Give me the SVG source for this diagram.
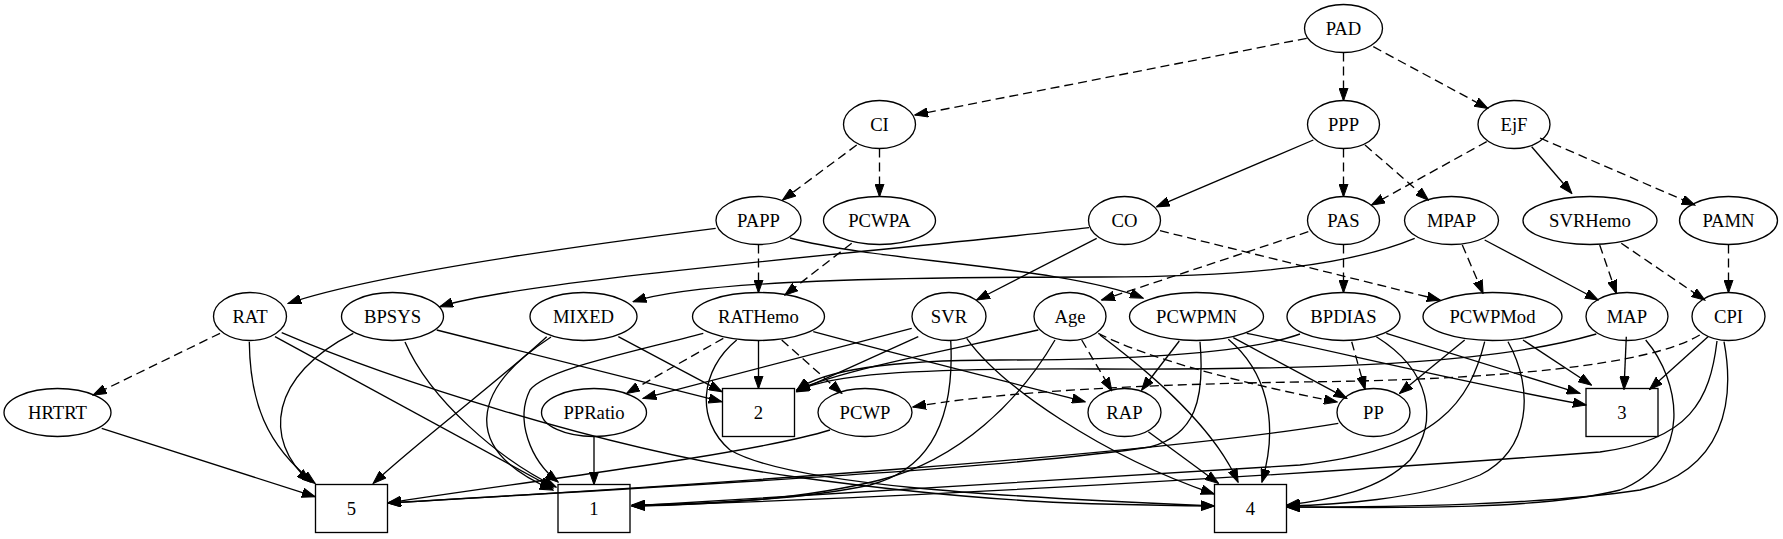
<svg xmlns="http://www.w3.org/2000/svg" width="1783" height="539" viewBox="0 0 1783 539">
<style>
.n ellipse,.n rect{fill:none;stroke:#000;stroke-width:1.33}
.n text{font-family:"Liberation Serif","Times New Roman",serif;font-size:18.67px;text-anchor:middle;fill:#000}
#edges path{fill:none;stroke:#000;stroke-width:1.33;marker-end:url(#ah)}
#edges path.d{stroke-dasharray:9,5}
</style>
<defs>
<marker id="ah" viewBox="0 -5 14 10" refX="13" refY="0" markerWidth="14" markerHeight="10" markerUnits="userSpaceOnUse" orient="auto">
<path d="M0,-4.7 L13.3,0 L0,4.7 z" fill="#000" stroke="#000" stroke-width="1" stroke-dasharray="none"/>
</marker>
</defs>
<rect width="1783" height="539" fill="#fff"/>
<g id="edges">
<path class="d" d="M1306.7,38.3 L915,115"/>
<path class="d" d="M1343.5,52.5 L1343.5,100.5"/>
<path class="d" d="M1373.3,46.7 L1487.7,108.3"/>
<path class="d" d="M856.7,145 L782.7,200"/>
<path class="d" d="M879.5,148.5 L879.5,196.5"/>
<path class="d" d="M1343.5,148.5 L1343.5,196.5"/>
<path class="d" d="M1365,145 L1428.3,200"/>
<path class="d" d="M1486.7,141.7 L1371.7,205"/>
<path d="M1531.7,146.7 L1571.7,193.3"/>
<path class="d" d="M1540,138 L1694.7,205"/>
<path d="M1313.3,140 L1156.7,206.7"/>
<path d="M715.7,228.3 C600,243 380,272 288.3,303.3"/>
<path d="M790,238 C880,262 1060,266 1143,298"/>
<path d="M1414.7,238.3 C1350,265 1250,277 1100,277 C900,277 700,280 633.3,301.7"/>
<path d="M1089,227.7 C900,250 520,280 440,306.7"/>
<path d="M1096.7,238.3 L976.7,300"/>
<path class="d" d="M1160,230.7 L1440,300"/>
<path class="d" d="M1308.3,231.7 L1101.7,300"/>
<path class="d" d="M1343.5,244.5 L1343.5,292.5"/>
<path class="d" d="M1462.3,245 L1483,293.3"/>
<path d="M1484.7,240 L1598,300"/>
<path class="d" d="M1599.7,245 L1616.3,293.3"/>
<path class="d" d="M1621.3,243.3 L1704.7,300"/>
<path class="d" d="M1728.5,244.5 L1728.5,292.5"/>
<path class="d" d="M758.5,244.5 L758.5,292.5"/>
<path class="d" d="M851.7,243.3 L785,295"/>
<path class="d" d="M220,333.3 L93.3,395"/>
<path d="M249.3,341.7 C250,400 265,445 315,483.3"/>
<path d="M353.3,333.3 C270,375 262,440 310,481.7"/>
<path d="M546.7,336.7 C500,380 420,440 373.3,483.3"/>
<path d="M551,337 C470,390 460,450 553,490"/>
<path d="M405,342 C430,400 500,460 556,487"/>
<path d="M436.7,330 L721.7,401.7"/>
<path d="M275,336.7 L553,488"/>
<path d="M281.7,332.7 C380,375 600,450 796,477 S1100,505 1214,506"/>
<path d="M758.5,340.5 L758.5,388.5"/>
<path class="d" d="M723.3,338.3 L626.7,393.3"/>
<path class="d" d="M781.7,340 L841.7,393.3"/>
<path d="M703.3,333.3 C620,355 545,370 530,390 C515,420 530,460 558,482"/>
<path d="M736.7,340 C700,370 695,420 730,450 C790,485 1000,497 1214,506"/>
<path d="M813.3,331.7 C900,355 1000,380 1085,401.7"/>
<path d="M618.3,336.7 L721.7,391.7"/>
<path d="M966.7,338.3 C1000,385 1100,455 1214,494"/>
<path d="M918.3,336.7 L796.7,391.7"/>
<path d="M911.7,328.3 L643.3,398.3"/>
<path d="M950.7,340 C955,420 930,470 870,485 C800,500 700,504 632,505"/>
<path d="M1038.3,330 C950,350 850,368 796.7,390"/>
<path d="M1055,340 C1020,400 960,460 880,480 C800,500 700,505 632,506"/>
<path class="d" d="M1081.7,340 L1111.7,390.7"/>
<path class="d" d="M1098.3,333.3 C1150,360 1250,385 1337,402"/>
<path d="M1100,335 C1160,380 1215,430 1238,482"/>
<path d="M1179.3,341 L1141.7,390"/>
<path d="M1233.3,337.7 L1346.7,398.3"/>
<path d="M1246.7,333.3 C1330,350 1450,380 1586,405"/>
<path d="M1228.3,339.3 C1265,370 1280,420 1262,482"/>
<path d="M1200,341.7 C1205,400 1195,435 1150,447 C1000,470 600,490 388,503"/>
<path d="M1300,334 C1250,352 1150,360 1000,360 C880,360 820,372 797,390"/>
<path d="M1596.3,334 C1500,362 1350,370 1100,369 C900,368 830,375 797,391"/>
<path class="d" d="M1351.7,341.7 L1365,389.3"/>
<path d="M1386.3,333.3 L1579.7,393.3"/>
<path d="M1376.3,336.7 C1430,370 1440,420 1410,460 C1380,490 1330,500 1287,505"/>
<path d="M1464.7,340 L1399.7,393.3"/>
<path d="M1523,340 L1591.3,385"/>
<path d="M1508,341.7 C1535,390 1530,450 1480,475 C1420,500 1330,505 1287,506"/>
<path d="M1484.7,341.7 C1470,400 1440,450 1300,465 C1000,485 750,500 632,506"/>
<path d="M1626.3,336.7 L1624,389.3"/>
<path d="M1645.7,340 C1680,380 1695,460 1620,490 C1540,510 1400,508 1287,507"/>
<path d="M1708,336.7 L1649.7,389.3"/>
<path class="d" d="M1699.7,335 C1650,365 1500,380 1300,382 C1100,385 980,395 913,407"/>
<path d="M1724,341.7 C1735,400 1725,470 1640,490 C1540,505 1400,507 1287,507"/>
<path d="M1717,341 C1710,400 1690,440 1600,452 C1300,475 900,498 632,506"/>
<path d="M830,430 C750,455 500,485 388,503"/>
<path d="M1338.3,423.3 C1150,455 700,485 388,503"/>
<path d="M594,436.5 L594,484.5"/>
<path d="M101.7,428.3 L315,496.7"/>
<path d="M1148.3,431.7 L1218.3,483.3"/>
</g>
<g id="PAD" class="n"><ellipse cx="1343.5" cy="28.5" rx="39" ry="24"/><text x="1343.5" y="34.5">PAD</text></g>
<g id="CI" class="n"><ellipse cx="879.5" cy="124.5" rx="36" ry="24"/><text x="879.5" y="130.5">CI</text></g>
<g id="PPP" class="n"><ellipse cx="1343.5" cy="124.5" rx="36" ry="24"/><text x="1343.5" y="130.5">PPP</text></g>
<g id="EjF" class="n"><ellipse cx="1514" cy="124.5" rx="36" ry="24"/><text x="1514" y="130.5">EjF</text></g>
<g id="PAPP" class="n"><ellipse cx="758.5" cy="220.5" rx="42.5" ry="24"/><text x="758.5" y="226.5">PAPP</text></g>
<g id="PCWPA" class="n"><ellipse cx="879.5" cy="220.5" rx="56" ry="24"/><text x="879.5" y="226.5">PCWPA</text></g>
<g id="CO" class="n"><ellipse cx="1124.5" cy="220.5" rx="36" ry="24"/><text x="1124.5" y="226.5">CO</text></g>
<g id="PAS" class="n"><ellipse cx="1343.5" cy="220.5" rx="36" ry="24"/><text x="1343.5" y="226.5">PAS</text></g>
<g id="MPAP" class="n"><ellipse cx="1451.5" cy="220.5" rx="47" ry="24"/><text x="1451.5" y="226.5">MPAP</text></g>
<g id="SVRHemo" class="n"><ellipse cx="1590" cy="220.5" rx="67" ry="24"/><text x="1590" y="226.5">SVRHemo</text></g>
<g id="PAMN" class="n"><ellipse cx="1728.5" cy="220.5" rx="49" ry="24"/><text x="1728.5" y="226.5">PAMN</text></g>
<g id="RAT" class="n"><ellipse cx="250" cy="316.5" rx="36.5" ry="24"/><text x="250" y="322.5">RAT</text></g>
<g id="BPSYS" class="n"><ellipse cx="392.5" cy="316.5" rx="51" ry="24"/><text x="392.5" y="322.5">BPSYS</text></g>
<g id="MIXED" class="n"><ellipse cx="583.5" cy="316.5" rx="53.5" ry="24"/><text x="583.5" y="322.5">MIXED</text></g>
<g id="RATHemo" class="n"><ellipse cx="758.5" cy="316.5" rx="66" ry="24"/><text x="758.5" y="322.5">RATHemo</text></g>
<g id="SVR" class="n"><ellipse cx="949" cy="316.5" rx="37" ry="24"/><text x="949" y="322.5">SVR</text></g>
<g id="Age" class="n"><ellipse cx="1070" cy="316.5" rx="36" ry="24"/><text x="1070" y="322.5">Age</text></g>
<g id="PCWPMN" class="n"><ellipse cx="1196.5" cy="316.5" rx="67" ry="24"/><text x="1196.5" y="322.5">PCWPMN</text></g>
<g id="BPDIAS" class="n"><ellipse cx="1343.5" cy="316.5" rx="56.5" ry="24"/><text x="1343.5" y="322.5">BPDIAS</text></g>
<g id="PCWPMod" class="n"><ellipse cx="1492.5" cy="316.5" rx="69.5" ry="24"/><text x="1492.5" y="322.5">PCWPMod</text></g>
<g id="MAP" class="n"><ellipse cx="1627" cy="316.5" rx="41" ry="24"/><text x="1627" y="322.5">MAP</text></g>
<g id="CPI" class="n"><ellipse cx="1728.5" cy="316.5" rx="36.5" ry="24"/><text x="1728.5" y="322.5">CPI</text></g>
<g id="HRTRT" class="n"><ellipse cx="57.5" cy="412.5" rx="53.5" ry="24"/><text x="57.5" y="418.5">HRTRT</text></g>
<g id="PPRatio" class="n"><ellipse cx="594" cy="412.5" rx="52.5" ry="24"/><text x="594" y="418.5">PPRatio</text></g>
<g id="n2" class="n"><rect x="722.5" y="388.5" width="72" height="48"/><text x="758.5" y="418.5">2</text></g>
<g id="PCWP" class="n"><ellipse cx="865" cy="412.5" rx="47" ry="24"/><text x="865" y="418.5">PCWP</text></g>
<g id="RAP" class="n"><ellipse cx="1124.5" cy="412.5" rx="36.5" ry="24"/><text x="1124.5" y="418.5">RAP</text></g>
<g id="PP" class="n"><ellipse cx="1373.5" cy="412.5" rx="36.5" ry="24"/><text x="1373.5" y="418.5">PP</text></g>
<g id="n3" class="n"><rect x="1586" y="388.5" width="72" height="48"/><text x="1622" y="418.5">3</text></g>
<g id="n5" class="n"><rect x="315.5" y="484.5" width="72" height="48"/><text x="351.5" y="514.5">5</text></g>
<g id="n1" class="n"><rect x="558" y="484.5" width="72" height="48"/><text x="594" y="514.5">1</text></g>
<g id="n4" class="n"><rect x="1214.5" y="484.5" width="72" height="48"/><text x="1250.5" y="514.5">4</text></g>
</svg>
